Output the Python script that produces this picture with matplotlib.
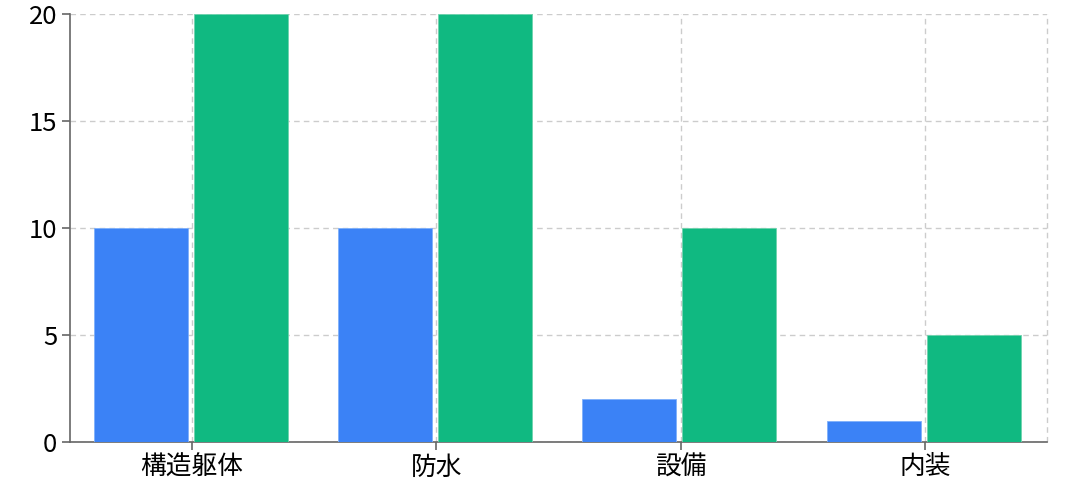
import matplotlib
matplotlib.use("Agg")
import matplotlib.pyplot as plt
import numpy as np

plt.rcParams['font.family'] = ['Noto Sans CJK JP', 'DejaVu Sans']

categories = ['構造躯体', '防水', '設備', '内装']
series_a = [10, 10, 2, 1]
series_b = [20, 20, 10, 5]
y_ticks = [0, 5, 10, 15, 20]

blue = '#3b82f6'
green = '#10b981'

fig = plt.figure(figsize=(10.78, 4.95), dpi=100)
ax = fig.add_axes([70 / 1078, 1 - 442 / 495, (1047 - 70) / 1078, (442 - 14) / 495])

x = np.arange(len(categories))
w = 0.385
ax.bar(x - 0.21, series_a, width=w, color=blue, edgecolor='#7fb0fa', linewidth=0.6, zorder=3)
ax.bar(x + 0.2, series_b, width=w, color=green, edgecolor='#6fd3ae', linewidth=0.6, zorder=3)

ax.set_xlim(-0.5, len(categories) - 0.5)
ax.set_ylim(0, 20)
ax.set_xticks(x)
ax.set_xticklabels(categories)
ax.set_yticks(y_ticks)

grid_kw = dict(color='#cccccc', linestyle=(0, (4, 3)), linewidth=1.0)
ax.grid(True, **grid_kw, zorder=0)
ax.axvline(len(categories) - 0.5 - 0.002, **grid_kw, zorder=0, clip_on=False)
ax.set_axisbelow(True)

for s in ['top', 'right']:
    ax.spines[s].set_visible(False)
for s in ['left', 'bottom']:
    ax.spines[s].set_color('#666666')
    ax.spines[s].set_linewidth(1.2)

ax.tick_params(axis='both', colors='#666666', labelcolor='black', labelsize=18.5, length=6, width=1.2)
ax.tick_params(axis='x', pad=3)
ax.tick_params(axis='y', pad=3)

fig.savefig('out.png', dpi=100)
